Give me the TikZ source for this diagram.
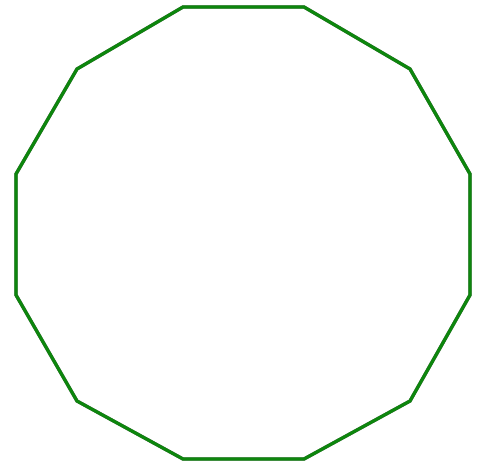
\documentclass[tikz,border=0pt]{standalone}
\begin{document}
\begin{tikzpicture}[x=1pt,y=-1pt,
  edge/.style={line width=3.2pt,line join=miter,draw=green!50!black!95!white},
  shade/.style={line width=3.4pt,line join=miter,draw=black!75,opacity=0.8}]
\useasboundingbox (0,0) rectangle (478,469);
\coordinate (v1) at (183,7);
\coordinate (v2) at (304,7);
\coordinate (v3) at (410,69);
\coordinate (v4) at (470,174);
\coordinate (v5) at (470,295);
\coordinate (v6) at (410,401);
\coordinate (v7) at (304,459);
\coordinate (v8) at (183,459);
\coordinate (v9) at (77,401);
\coordinate (v10) at (16,295);
\coordinate (v11) at (16,174);
\coordinate (v12) at (77,69);
\draw[shade,shift={(1.2,1.2)}] (v1) -- (v2) -- (v3) -- (v4) -- (v5) -- (v6) -- (v7) -- (v8) -- (v9) -- (v10) -- (v11) -- (v12) -- cycle;
\draw[edge] (v1) -- (v2) -- (v3) -- (v4) -- (v5) -- (v6) -- (v7) -- (v8) -- (v9) -- (v10) -- (v11) -- (v12) -- cycle;
\end{tikzpicture}
\end{document}
